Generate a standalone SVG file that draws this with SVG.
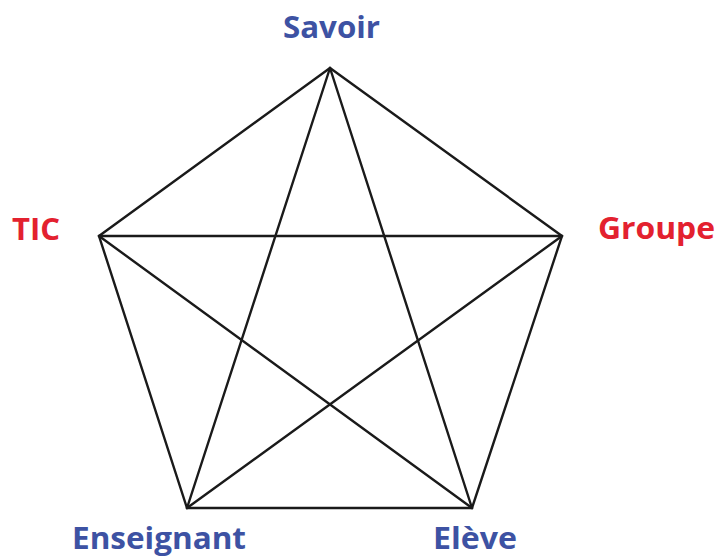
<svg xmlns="http://www.w3.org/2000/svg" width="716" height="557" viewBox="0 0 716 557">
<style>
.lbl{font-family:"Open Sans","Noto Sans","Liberation Sans",sans-serif;font-weight:700;font-size:31px}
.blue{fill:#3d52a3}
.red{fill:#e3212f}
.e{stroke:#1a1a1a;stroke-width:2.4;fill:none;stroke-linejoin:miter;stroke-linecap:round}
</style>
<rect width="716" height="557" fill="#fff"/>
<g id="connectors">
<polygon class="e" points="330,68 562,236 472,508 187,508 99,236"/>
<line class="e" x1="330" y1="68" x2="187" y2="508"/>
<line class="e" x1="330" y1="68" x2="472" y2="508"/>
<line class="e" x1="99" y1="236" x2="562" y2="236"/>
<line class="e" x1="99" y1="236" x2="472" y2="508"/>
<line class="e" x1="562" y1="236" x2="187" y2="508"/>
</g>
<g id="savoir"><text class="lbl blue" x="283" y="38" textLength="97" lengthAdjust="spacingAndGlyphs">Savoir</text></g>
<g id="tic"><text class="lbl red" x="12" y="240" textLength="48" lengthAdjust="spacingAndGlyphs">TIC</text></g>
<g id="groupe"><text class="lbl red" x="598" y="239" textLength="117" lengthAdjust="spacingAndGlyphs">Groupe</text></g>
<g id="enseignant"><text class="lbl blue" x="72" y="549" textLength="174" lengthAdjust="spacingAndGlyphs">Enseignant</text></g>
<g id="eleve"><text class="lbl blue" x="433" y="549" textLength="84" lengthAdjust="spacingAndGlyphs">Elève</text></g>
</svg>
